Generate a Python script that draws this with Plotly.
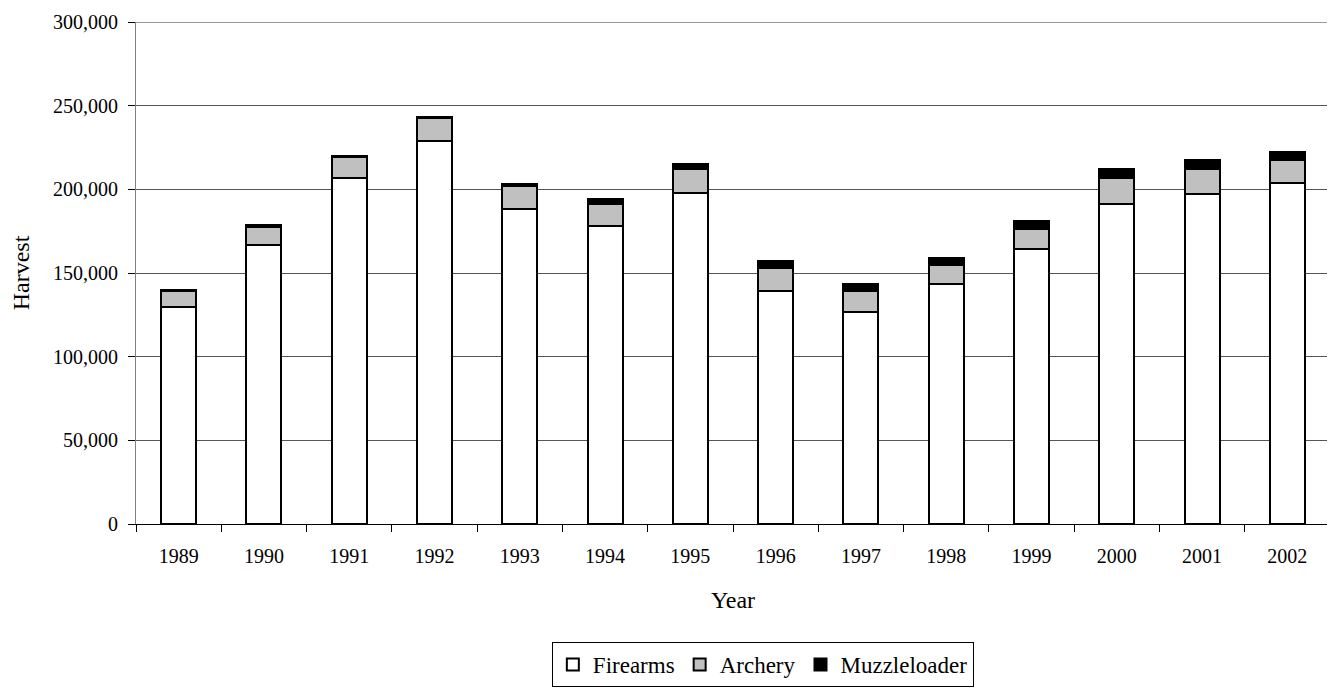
import plotly.graph_objects as go

years = ["1989", "1990", "1991", "1992", "1993", "1994", "1995",
         "1996", "1997", "1998", "1999", "2000", "2001", "2002"]
firearms = [129500, 166500, 206500, 228900, 188300, 178000, 197600,
            139400, 126900, 143300, 164100, 191300, 197200, 203500]
archery = [9500, 11200, 12800, 13600, 13800, 13300, 14800,
           13300, 12300, 11700, 12300, 15200, 14900, 14100]
muzzleloader = [800, 700, 700, 800, 900, 2900, 3000,
                4500, 4500, 4200, 4400, 5500, 5500, 4700]

font_family = "Liberation Serif"

fig = go.Figure()
for name, vals, color in [("Firearms", firearms, "#FFFFFF"),
                          ("Archery", archery, "#C0C0C0"),
                          ("Muzzleloader", muzzleloader, "#000000")]:
    fig.add_trace(go.Bar(x=years, y=vals, name=name,
                         marker=dict(color=color, line=dict(color="#000000", width=2))))

fig.add_shape(type="line", xref="paper", yref="y", x0=0, x1=1, y0=300000, y1=300000,
              line=dict(color="#333333", width=1))

fig.update_layout(
    barmode="stack",
    bargap=0.59,
    width=1327, height=684,
    margin=dict(l=128, r=5, t=14, b=161),
    paper_bgcolor="white", plot_bgcolor="white",
    font=dict(family=font_family, size=20, color="black"),
    legend=dict(orientation="h", traceorder="normal",
                x=0.525, xanchor="center", y=-0.235, yanchor="top",
                bordercolor="black", borderwidth=1,
                font=dict(size=23, family=font_family),
                itemwidth=30, tracegroupgap=0),
    xaxis=dict(type="category", showline=True, linecolor="black", linewidth=1,
               ticks="outside", tickson="boundaries", ticklen=7, tickcolor="black",
               ticklabelstandoff=14,
               tickfont=dict(size=20, family=font_family), automargin=False,
               title=dict(text="Year", font=dict(size=24, family=font_family), standoff=25)),
    yaxis=dict(range=[0, 300000], dtick=50000, tickformat=",",
               showline=True, linecolor="#808080", linewidth=1,
               ticks="outside", ticklen=7, tickcolor="black",
               ticklabelstandoff=6,
               showgrid=True, gridcolor="#555555", gridwidth=1,
               zeroline=False, automargin=False,
               tickfont=dict(size=20, family=font_family),
               title=dict(text="Harvest", font=dict(size=24, family=font_family), standoff=20)),
)

fig.write_html("out.html")
